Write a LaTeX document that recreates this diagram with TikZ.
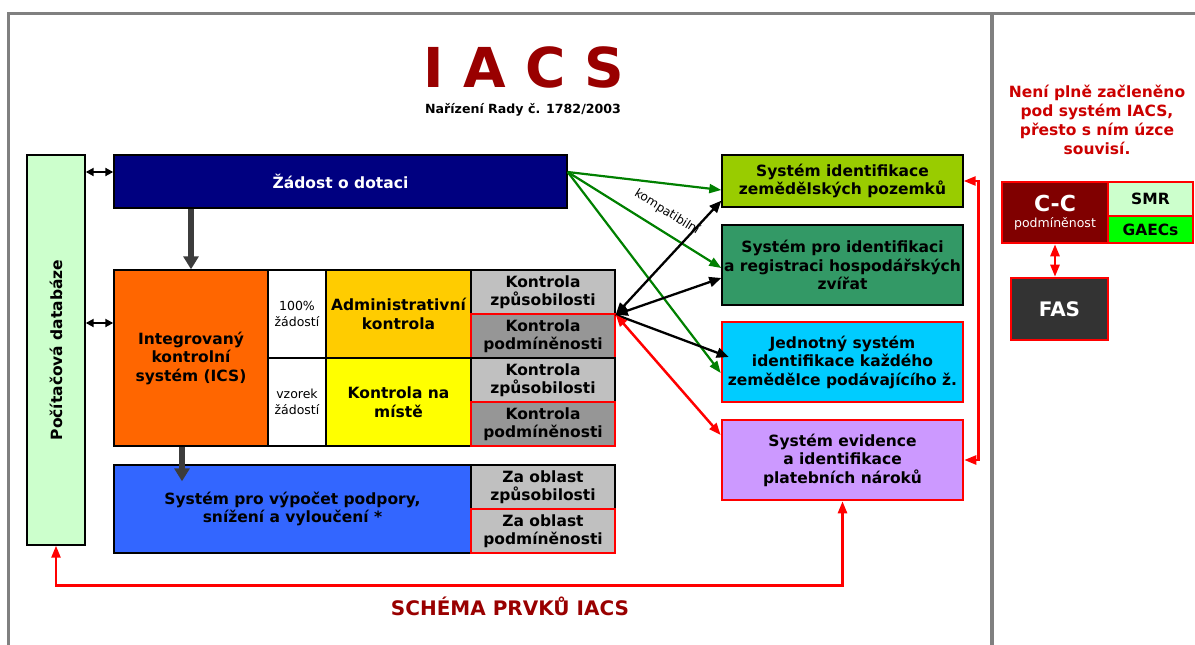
\documentclass[tikz,border=0pt]{standalone}
\usepackage{fontspec}
\setmainfont{DejaVu Sans}
\usetikzlibrary{arrows.meta,calc}
\definecolor{framegray}{HTML}{808080}
\definecolor{titlered}{HTML}{990000}
\definecolor{notered}{HTML}{CC0000}
\definecolor{dbgreen}{HTML}{CCFFCC}
\definecolor{navy}{HTML}{000080}
\definecolor{icsorange}{HTML}{FF6600}
\definecolor{admgold}{HTML}{FFCC00}
\definecolor{spotyellow}{HTML}{FFFF00}
\definecolor{ltgray}{HTML}{C0C0C0}
\definecolor{dkgray}{HTML}{969696}
\definecolor{calcblue}{HTML}{3366FF}
\definecolor{lpisgreen}{HTML}{99CC00}
\definecolor{animalgreen}{HTML}{339966}
\definecolor{farmcyan}{HTML}{00CCFF}
\definecolor{claimviolet}{HTML}{CC99FF}
\definecolor{ccred}{HTML}{800000}
\definecolor{smrgreen}{HTML}{CCFFCC}
\definecolor{gaecgreen}{HTML}{00FF00}
\definecolor{fasgray}{HTML}{333333}
\definecolor{arrowgray}{HTML}{3C3C3C}
\definecolor{linkgreen}{HTML}{008000}
\begin{document}
\begin{tikzpicture}[x=1pt,y=-1pt,
  frame/.style={draw=framegray,line width=3.5pt},
  box/.style={draw=black,line width=1.4pt,inner sep=0pt,align=center,text=black,
    font=\bfseries\fontsize{15.5}{18.5}\selectfont},
  redbox/.style={box,draw=red,line width=2.6pt},
  small/.style={font=\fontsize{12.5}{16}\selectfont},
  dbl/.style={{Triangle[length=8pt,width=8pt]}-{Triangle[length=8pt,width=8pt]},line width=1.9pt,draw=black},
  greenlink/.style={-{Triangle[length=12pt,width=9pt]},line width=2.2pt,draw=linkgreen},
  blacklink/.style={{Triangle[length=12pt,width=10pt]}-{Triangle[length=12pt,width=10pt]},line width=2.3pt,draw=black},
  redlink/.style={{Triangle[length=12pt,width=9pt]}-{Triangle[length=12pt,width=9pt]},line width=2.5pt,draw=red},
  thick arrow/.style={-{Triangle[length=13pt,width=15pt]},line width=5.5pt,draw=arrowgray}]
\useasboundingbox (0,0) rectangle (1195,645);

% outer frame and divider
\draw[frame] (8.5,645) -- (8.5,13.5) -- (1195,13.5);
\draw[frame] (992,13.5) -- (992,645);

% headings
\node[text=titlered,font=\bfseries\fontsize{55}{60}\selectfont] (title) at (524,67) {I A C S};
\node[font=\bfseries\fontsize{12.6}{14}\selectfont] (reg) at (523,110) {Nařízení Rady č. 1782/2003};
\node[text=titlered,font=\bfseries\fontsize{20}{22}\selectfont] (foot) at (510,606) {SCHÉMA PRVKŮ IACS};
\node[text=notered,align=center,font=\bfseries\fontsize{15.5}{19}\selectfont] (note) at (1097,120)
  {Není plně začleněno\\pod systém IACS,\\přesto s ním úzce\\souvisí.};

% database column
\node[box,fill=dbgreen,minimum width=58pt,minimum height=390pt] (db) at (56,350) {};
\node[rotate=90,font=\bfseries\fontsize{15.5}{18.5}\selectfont] (dbtext) at (db.center) {Počítačová databáze};

% application
\node[box,fill=navy,text=white,minimum width=453pt,minimum height=53pt] (zad) at (340.5,181.5) {Žádost o dotaci};

% integrated control system
\node[box,fill=icsorange,minimum width=154pt,minimum height=176pt] (ics) at (191,358)
  {Integrovaný\\kontrolní\\systém (ICS)};
\node[box,fill=white,small,minimum width=58pt,minimum height=88pt] (p100) at (297,314) {100\%\\žádostí};
\node[box,fill=white,small,minimum width=58pt,minimum height=88pt] (vzor) at (297,402) {vzorek\\žádostí};
\node[box,fill=admgold,minimum width=145pt,minimum height=88pt] (adm) at (398.5,314) {Administrativní\\kontrola};
\node[box,fill=spotyellow,minimum width=145pt,minimum height=88pt] (mist) at (398.5,402) {Kontrola na\\místě};
\node[box,fill=ltgray,minimum width=144pt,minimum height=44pt] (kz1) at (543,292) {Kontrola\\způsobilosti};
\node[redbox,fill=dkgray,minimum width=144pt,minimum height=44pt] (kp1) at (543,336) {Kontrola\\podmíněnosti};
\node[box,fill=ltgray,minimum width=144pt,minimum height=44pt] (kz2) at (543,380) {Kontrola\\způsobilosti};
\node[redbox,fill=dkgray,minimum width=144pt,minimum height=44pt] (kp2) at (543,424) {Kontrola\\podmíněnosti};

% calculation system
\node[box,fill=calcblue,minimum width=357pt,minimum height=88pt] (vyp) at (292.5,509)
  {Systém pro výpočet podpory,\\snížení a vyloučení *};
\node[box,fill=ltgray,minimum width=144pt,minimum height=44pt] (zo1) at (543,487) {Za oblast\\způsobilosti};
\node[redbox,fill=ltgray,minimum width=144pt,minimum height=44pt] (zo2) at (543,531) {Za oblast\\podmíněnosti};

% identification systems
\node[box,fill=lpisgreen,minimum width=241pt,minimum height=52pt] (sizp) at (842.5,181)
  {Systém identifikace\\zemědělských pozemků};
\node[box,fill=animalgreen,minimum width=241pt,minimum height=80pt] (zvi) at (842.5,265)
  {Systém pro identifikaci\\a registraci hospodářských\\zvířat};
\node[redbox,fill=farmcyan,minimum width=241pt,minimum height=80pt] (jed) at (842.5,362)
  {Jednotný systém\\identifikace každého\\zemědělce podávajícího ž.};
\node[redbox,fill=claimviolet,minimum width=241pt,minimum height=80pt] (evi) at (842.5,460)
  {Systém evidence\\a identifikace\\platebních nároků};

% cross-compliance panel
\node[redbox,fill=ccred,text=white,minimum width=106pt,minimum height=61pt] (cc) at (1055,212.5)
  {{\fontsize{22}{24}\selectfont C-C}\\[-2pt]{\mdseries\fontsize{12.5}{15}\selectfont podmíněnost}};
\node[redbox,fill=smrgreen,minimum width=85pt,minimum height=34pt] (smr) at (1150.5,199) {SMR};
\node[redbox,fill=gaecgreen,minimum width=85pt,minimum height=27pt] (gaec) at (1150.5,229.5) {GAECs};
\node[redbox,fill=fasgray,text=white,minimum width=97pt,minimum height=62pt,
  font=\bfseries\fontsize{20}{24}\selectfont] (fas) at (1059.5,309) {FAS};

% database links
\draw[dbl] ($(db.east|-zad.west)+(0,-9.5)$) -- ($(zad.west)+(0,-9.5)$);
\draw[dbl] ($(db.east|-ics.west)+(0,-35)$) -- ($(ics.west)+(0,-35)$);

% flow arrows
\draw[thick arrow] (ics.north|-zad.south) -- (ics.north);
\draw[thick arrow] ($(ics.south)+(-9,0)$) -- ($(vyp.north-|ics.south)+(-9,17)$);

% compatibility links from the application
\draw[greenlink] ($(zad.east)+(0,-9.5)$) -- ($(sizp.west)+(0,9)$);
\draw[greenlink] ($(zad.east)+(0,-9.5)$) -- ($(zvi.west)+(0,3)$);
\draw[greenlink] ($(zad.east)+(0,-9.5)$) -- ($(jed.west)+(0,11)$);
\node[rotate=-32,font=\fontsize{12}{14}\selectfont] (kompat) at (667,212) {kompatibilní};

% links from the eligibility / compliance checks
\draw[blacklink] (kz1.south east) -- ($(sizp.south west)+(0,-7)$);
\draw[blacklink] (kz1.south east) -- ($(zvi.west)+(0,13)$);
\draw[-{Triangle[length=12pt,width=10pt]},line width=2.3pt] (kz1.south east) -- ($(jed.west)+(8,-5)$);
\draw[redlink] (kz1.south east) -- ($(evi.west)+(0,-25)$);

% red feedback connectors
\draw[redlink] (sizp.east) -- ++(15,0) |- (evi.east);
\draw[redlink] (evi.south) -- ++(0,84) -| (db.south);
\draw[redlink] (cc.south) -- (cc.south|-fas.north);
\end{tikzpicture}
\end{document}
